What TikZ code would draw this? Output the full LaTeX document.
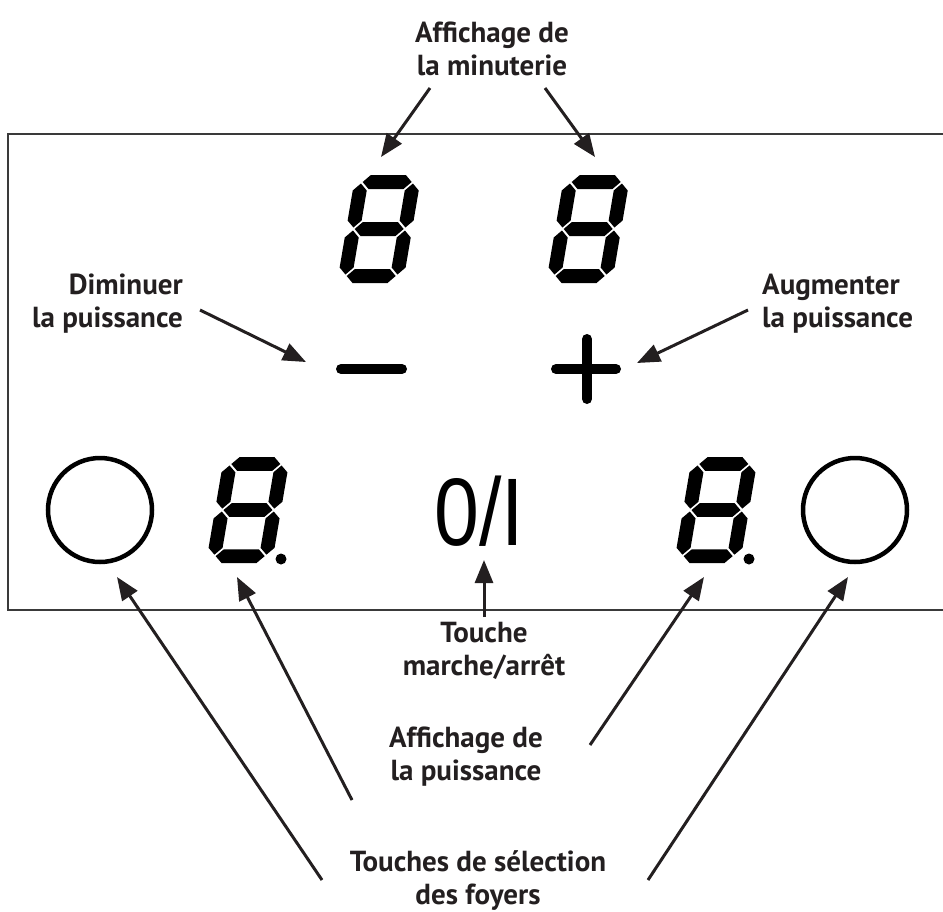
\documentclass[tikz,border=0pt]{standalone}
\usepackage{fontspec}
\setmainfont{PT Sans}
\newfontfamily\numfont{Liberation Sans}
\usetikzlibrary{arrows.meta}
\definecolor{ink}{HTML}{231F20}
\definecolor{frame}{HTML}{3A3A3A}
\newcommand\SegDigit{%
 \fill (8.5,101) -- (15.5,108) -- (50.5,108) -- (57.5,101) -- (50.5,94) -- (15.5,94) -- cycle;
 \fill (8.5,54) -- (15.5,61) -- (50.5,61) -- (57.5,54) -- (50.5,47) -- (15.5,47) -- cycle;
 \fill (8.5,7) -- (15.5,14) -- (50.5,14) -- (57.5,7) -- (50.5,0) -- (15.5,0) -- cycle;
 \fill (7,55.5) -- (14,62.5) -- (14,92.5) -- (7,99.5) -- (0,92.5) -- (0,62.5) -- cycle;
 \fill (7,8.5) -- (14,15.5) -- (14,45.5) -- (7,52.5) -- (0,45.5) -- (0,15.5) -- cycle;
 \fill (59,55.5) -- (66,62.5) -- (66,92.5) -- (59,99.5) -- (52,92.5) -- (52,62.5) -- cycle;
 \fill (59,8.5) -- (66,15.5) -- (66,45.5) -- (59,52.5) -- (52,45.5) -- (52,15.5) -- cycle;
}
\begin{document}
\begin{tikzpicture}[x=1pt,y=-1pt,
  lbl/.style={font=\fontsize{29}{33}\selectfont\bfseries, text=ink, inner sep=0, align=center},
  arr/.style={draw=ink, line width=3pt, -{Triangle[length=23pt,width=18pt]}},
  keyring/.style={draw=black, line width=4.5pt, circle, minimum size=104pt, inner sep=0},
  bar/.style={line width=10pt, line cap=round, draw=black},
  digitpos/.style={y=1pt, xslant=0.17}]
\useasboundingbox (0,0) rectangle (943,911);

% panel frame
\draw[frame, line width=2pt] (943,134) -- (8,134) -- (8,610) -- (943,610);

% timer digits
\begin{scope}[shift={(337,283)}, digitpos] \SegDigit \end{scope}
\begin{scope}[shift={(546,283)}, digitpos] \SegDigit \end{scope}

% power digits
\begin{scope}[shift={(206,563)}, digitpos, yscale=0.98] \SegDigit \end{scope}
\begin{scope}[shift={(674,563)}, digitpos, yscale=0.98] \SegDigit \end{scope}
\fill (281,559) circle (5.5pt);
\fill (749,559) circle (5.5pt);

% minus / plus
\coordinate (minusL) at (341,369);
\coordinate (minusR) at (402,369);
\draw[bar] (minusL) -- (minusR);
\coordinate (plusL) at (556,369);
\coordinate (plusR) at (616,369);
\coordinate (plusT) at (587,339);
\coordinate (plusB) at (587,399);
\draw[bar] (plusL) -- (plusR);
\draw[bar] (plusT) -- (plusB);

% selection keys
\node[keyring] (keyL) at (100,510) {};
\node[keyring] (keyR) at (855,510) {};

% on/off
\node[font=\numfont\fontsize{96}{96}\selectfont, inner sep=0, anchor=base] (onoff) at (479,545) {\scalebox{0.84}[1]{0/I}};

% labels (anchor base = baseline of the last line)
\node[lbl, anchor=base] (minut) at (492,75) {Affichage de\\la minuterie};
\node[lbl, anchor=base east, align=right] (dimin) at (183,327) {Diminuer\\la puissance};
\node[lbl, anchor=base west, align=left] (augm) at (762,327) {Augmenter\\la puissance};
\node[lbl, anchor=base] (onofflbl) at (484,675) {Touche\\marche/arrêt};
\node[lbl, anchor=base] (puiss) at (466,780) {Affichage de\\la puissance};
\node[lbl, anchor=base] (foyers) at (478,904) {Touches de sélection\\des foyers};

% arrow ends
\coordinate (m1s) at (430,88);  \coordinate (m1t) at (381,157);
\coordinate (m2s) at (545,88);  \coordinate (m2t) at (595,157);
\coordinate (dS) at (200,310);  \coordinate (dT) at (306,362);
\coordinate (aS) at (748,310);  \coordinate (aT) at (637,363);
\coordinate (oS) at (484,617);  \coordinate (oT) at (484,560);
\coordinate (lcS) at (322,880); \coordinate (lcT) at (117,577);
\coordinate (ldS) at (352,800); \coordinate (ldT) at (237,577);
\coordinate (rdS) at (590,745); \coordinate (rdT) at (704,577);
\coordinate (rcS) at (648,880); \coordinate (rcT) at (848,577);

\draw[arr] (m1s) -- (m1t);
\draw[arr] (m2s) -- (m2t);
\draw[arr] (dS) -- (dT);
\draw[arr] (aS) -- (aT);
\draw[arr] (oS) -- (oT);
\draw[arr] (lcS) -- (lcT);
\draw[arr] (ldS) -- (ldT);
\draw[arr] (rdS) -- (rdT);
\draw[arr] (rcS) -- (rcT);
\end{tikzpicture}
\end{document}
